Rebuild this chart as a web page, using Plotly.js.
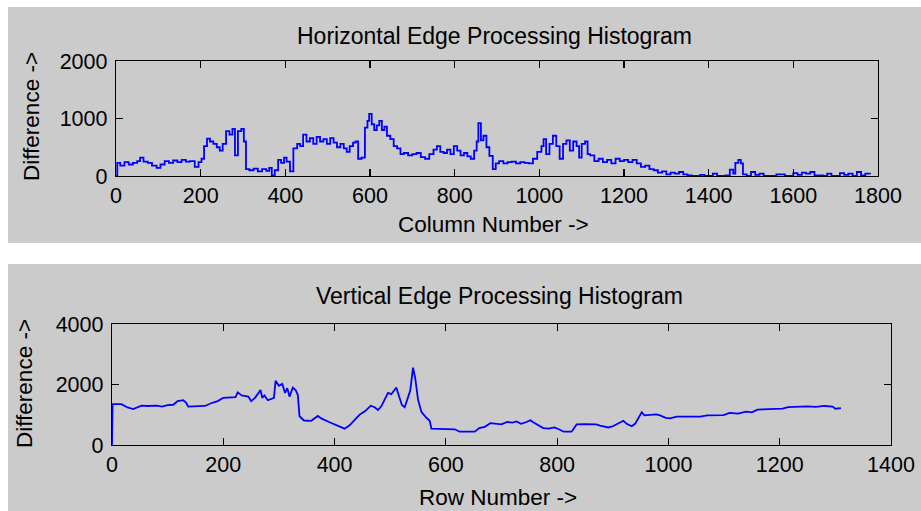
<!DOCTYPE html>
<html>
<head>
<meta charset="utf-8">
<script src="https://cdn.plot.ly/plotly-3.0.1.min.js"></script>
<style>html,body{margin:0;padding:0;background:#fff;}#chart{width:921px;height:511px;}</style>
</head>
<body>
<div id="chart"></div>
<script>
// Horizontal edge processing histogram (column number vs difference)
var colNumber = [0,3,10,20,30,40,50,57,65,75,85,96,105,115,125,135,145,155,165,175,186,195,202,208,215,222,230,238,245,252,260,268,275,281,288,296,302,307,315,325,335,345,355,362,368,375,383,390,397,403,411,419,428,435,442,450,458,466,474,482,490,498,506,514,522,530,538,545,552,560,566,572,580,588,594,598,604,610,616,622,628,634,640,648,656,664,672,680,690,700,710,720,730,740,750,758,766,774,782,790,798,806,814,822,830,838,846,852,856,862,868,875,882,890,897,905,915,925,935,945,955,965,975,985,995,1005,1010,1016,1024,1032,1040,1048,1056,1064,1072,1080,1088,1094,1100,1108,1114,1120,1130,1140,1150,1160,1170,1180,1190,1200,1210,1220,1230,1240,1250,1260,1270,1280,1290,1300,1310,1320,1330,1340,1350,1360,1380,1390,1400,1410,1420,1440,1450,1458,1463,1470,1476,1481,1490,1500,1510,1520,1530,1550,1560,1580,1600,1610,1620,1630,1640,1650,1670,1680,1690,1710,1720,1730,1740,1750,1760,1770,1781];
var colDiff = [0,230,180,240,200,230,260,320,250,230,180,140,200,260,230,270,240,280,250,260,160,240,300,520,650,600,560,500,440,560,780,720,820,360,780,820,600,120,100,130,80,120,90,140,10,100,280,230,320,250,80,480,560,520,720,600,660,560,680,600,640,560,660,580,500,560,480,420,520,580,600,300,320,840,960,1080,900,800,880,960,800,860,700,640,520,480,380,400,360,380,400,330,300,380,460,520,420,400,460,380,520,440,360,400,340,300,440,600,920,620,700,500,350,120,220,260,220,240,250,220,240,230,220,300,420,520,640,380,560,700,520,300,560,620,440,600,520,320,560,600,380,360,260,300,240,280,220,300,260,280,240,280,220,160,180,120,100,60,80,30,60,40,70,30,10,0,20,0,0,40,0,10,110,40,230,280,220,30,0,70,20,40,0,0,30,0,50,20,60,40,70,10,0,40,0,50,20,40,0,70,10,40,30];

// Vertical edge processing histogram (row number vs difference)
var rowNumber = [0,1,17,28,38,45,53,65,80,90,100,110,118,128,133,137,150,167,178,190,200,215,222,226,233,245,250,257,262,267,270,274,280,286,291,294,300,306,311,315,319,325,330,334,337,345,358,370,376,390,400,412,418,427,436,445,455,465,472,478,484,490,496,502,508,511,516,521,526,532,536,541,545,550,556,565,571,574,590,616,625,652,660,670,680,690,700,710,720,727,735,745,752,757,765,775,785,795,803,812,826,835,850,870,877,885,892,900,910,919,925,934,940,948,952,957,965,978,985,995,1003,1015,1040,1057,1070,1085,1099,1110,1125,1140,1150,1160,1175,1190,1205,1215,1230,1250,1265,1280,1295,1300,1310];
var rowDiff = [0,1350,1350,1240,1190,1250,1300,1290,1300,1270,1320,1330,1450,1480,1400,1270,1280,1290,1380,1450,1560,1570,1580,1740,1640,1600,1450,1560,1680,1820,1560,1640,1480,1520,1560,2120,1960,2020,1720,1880,1600,1900,1820,1650,950,810,800,960,880,760,680,600,540,650,840,1000,1120,1300,1250,1160,1280,1500,1720,1680,1840,1900,1600,1320,1250,1620,1800,2560,2200,1500,1100,900,800,540,530,520,440,440,560,600,720,700,680,760,740,780,700,760,820,750,660,560,540,580,520,440,440,680,690,680,640,600,580,620,720,800,700,620,700,950,1080,980,1000,1010,980,900,880,935,935,940,980,990,990,1060,1040,1100,1080,1170,1180,1180,1200,1250,1270,1280,1260,1290,1270,1200,1220];

var titles = ['Horizontal Edge Processing Histogram', 'Vertical Edge Processing Histogram'];
var xLabels = ['Column Number ->', 'Row Number ->'];
var yLabel = 'Difference ->';

var W = 921, H = 511;
function px(v){ return v / W; }
function py(v){ return 1 - v / H; }

var FONT = 'Liberation Sans, Arial, sans-serif';
var gray = '#cbcbcb';

var traces = [
  {x: colNumber, y: colDiff, type: 'scatter', mode: 'lines', xaxis: 'x', yaxis: 'y',
   line: {color: '#0000ff', width: 1.8, shape: 'hv'}, hoverinfo: 'skip'},
  {x: rowNumber, y: rowDiff, type: 'scatter', mode: 'lines', xaxis: 'x2', yaxis: 'y2',
   line: {color: '#0000ff', width: 1.8}, hoverinfo: 'skip'}
];

function axisStyle(extra){
  var a = {
    showline: true, mirror: 'allticks', linecolor: '#000', linewidth: 1.2,
    ticks: 'inside', ticklen: 7, tickwidth: 1.2, tickcolor: '#000',
    showgrid: false, zeroline: false,
    tickfont: {family: FONT, size: 21.5, color: '#000'},
    fixedrange: true
  };
  for (var k in extra) a[k] = extra[k];
  return a;
}

var layout = {
  width: W, height: H,
  margin: {l: 0, r: 0, t: 0, b: 0, pad: 0},
  paper_bgcolor: '#ffffff',
  plot_bgcolor: '#ffffff',
  showlegend: false,
  xaxis: axisStyle({domain: [px(116), px(878)], range: [0, 1800], tickmode: 'linear', tick0: 0, dtick: 200, anchor: 'y'}),
  yaxis: axisStyle({domain: [py(176), py(61)], range: [0, 2000], tickmode: 'linear', tick0: 0, dtick: 1000, anchor: 'x', ticklabelstandoff: 3}),
  xaxis2: axisStyle({domain: [px(112), px(891)], range: [0, 1400], tickmode: 'linear', tick0: 0, dtick: 200, anchor: 'y2'}),
  yaxis2: axisStyle({domain: [py(445), py(324)], range: [0, 4000], tickmode: 'linear', tick0: 0, dtick: 2000, anchor: 'x2', ticklabelstandoff: 3}),
  shapes: [
    {type: 'rect', xref: 'paper', yref: 'paper', x0: px(8), x1: 1, y0: py(243), y1: py(7), fillcolor: gray, line: {width: 0}, layer: 'below'},
    {type: 'rect', xref: 'paper', yref: 'paper', x0: px(8), x1: 1, y0: 0, y1: py(264), fillcolor: gray, line: {width: 0}, layer: 'below'}
  ],
  annotations: [
    {text: titles[0], xref: 'paper', yref: 'paper', x: px(494), y: py(36), xanchor: 'center', yanchor: 'middle', showarrow: false, font: {family: FONT, size: 23, color: '#000'}},
    {text: titles[1], xref: 'paper', yref: 'paper', x: px(499), y: py(296), xanchor: 'center', yanchor: 'middle', showarrow: false, font: {family: FONT, size: 23, color: '#000'}},
    {text: xLabels[0], xref: 'paper', yref: 'paper', x: px(493), y: py(225), xanchor: 'center', yanchor: 'middle', showarrow: false, font: {family: FONT, size: 22.5, color: '#000'}},
    {text: xLabels[1], xref: 'paper', yref: 'paper', x: px(498), y: py(497), xanchor: 'center', yanchor: 'middle', showarrow: false, font: {family: FONT, size: 22.5, color: '#000'}},
    {text: yLabel, xref: 'paper', yref: 'paper', x: px(32), y: py(117), xanchor: 'center', yanchor: 'middle', textangle: -90, showarrow: false, font: {family: FONT, size: 22.5, color: '#000'}},
    {text: yLabel, xref: 'paper', yref: 'paper', x: px(24), y: py(384), xanchor: 'center', yanchor: 'middle', textangle: -90, showarrow: false, font: {family: FONT, size: 22.5, color: '#000'}}
  ]
};

Plotly.newPlot('chart', traces, layout, {staticPlot: true, displayModeBar: false});
</script>
</body>
</html>
